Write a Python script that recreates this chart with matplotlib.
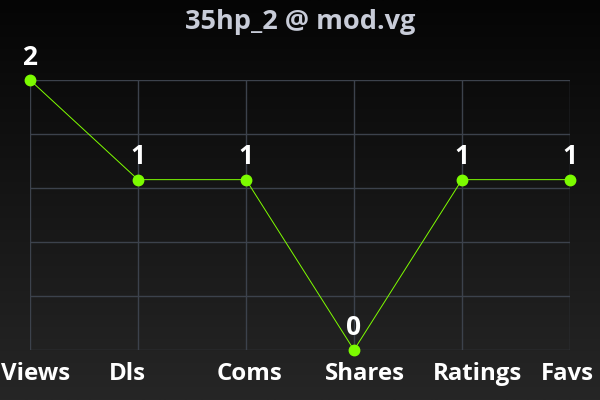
import numpy as np
import matplotlib
matplotlib.use("Agg")
import matplotlib.pyplot as plt

categories = ["Views", "Dls", "Coms", "Shares", "Ratings", "Favs"]
values = [2, 1, 1, 0, 1, 1]
title = "35hp_2 @ mod.vg"

plt.rcParams['font.family'] = ['Open Sans', 'DejaVu Sans']

fig = plt.figure(figsize=(6, 4), dpi=100)

# gradient background
bg = fig.add_axes([0, 0, 1, 1], zorder=-10)
grad = np.linspace(0, 1, 256).reshape(-1, 1)
cmap = matplotlib.colors.LinearSegmentedColormap.from_list("bg", ["#050505", "#262626"])
bg.imshow(grad, aspect="auto", cmap=cmap, extent=[0, 1, 0, 1], origin="upper")
bg.axis("off")

ax = fig.add_axes([0.05, 0.125, 0.9, 0.675])
ax.set_facecolor("none")

x = np.arange(len(categories))
y = np.log1p(values)
ymax = np.log1p(max(values))

ax.plot(x, y, color="#7fff00", lw=0.7, zorder=3)
ax.plot(x, y, "o", color="#7cfc00", ms=7.5, zorder=4, clip_on=False)

for xi, yi, v in zip(x, y, values):
    ax.annotate(str(v), (xi, yi), xytext=(0, 11), textcoords="offset points",
                ha="center", va="baseline", color="white", fontsize=19,
                fontweight="bold")

ax.set_xlim(0, len(categories) - 1)
ax.set_ylim(0, ymax)
ax.set_yticks(np.linspace(0, ymax, 6))
ax.set_xticks(x)
ax.set_xticklabels([])
ax.set_yticklabels([])
ax.tick_params(length=0)
ax.grid(True, color="#3c424c", lw=1)
for s in ax.spines.values():
    s.set_visible(False)

# category labels start a bit left of their grid line
for xi, cat in zip(x, categories):
    ax.annotate(cat, (xi, 0), xycoords=ax.get_xaxis_transform(),
                xytext=(-20.9, -21.6), textcoords="offset points",
                ha="left", va="baseline", color="white", fontsize=17.3,
                fontweight="bold", annotation_clip=False)

fig.text(0.5, 0.945, title, ha="center", va="center", color="#c8ccd8",
         fontsize=19.5, fontweight="bold")

fig.savefig("out.png", dpi=100)
